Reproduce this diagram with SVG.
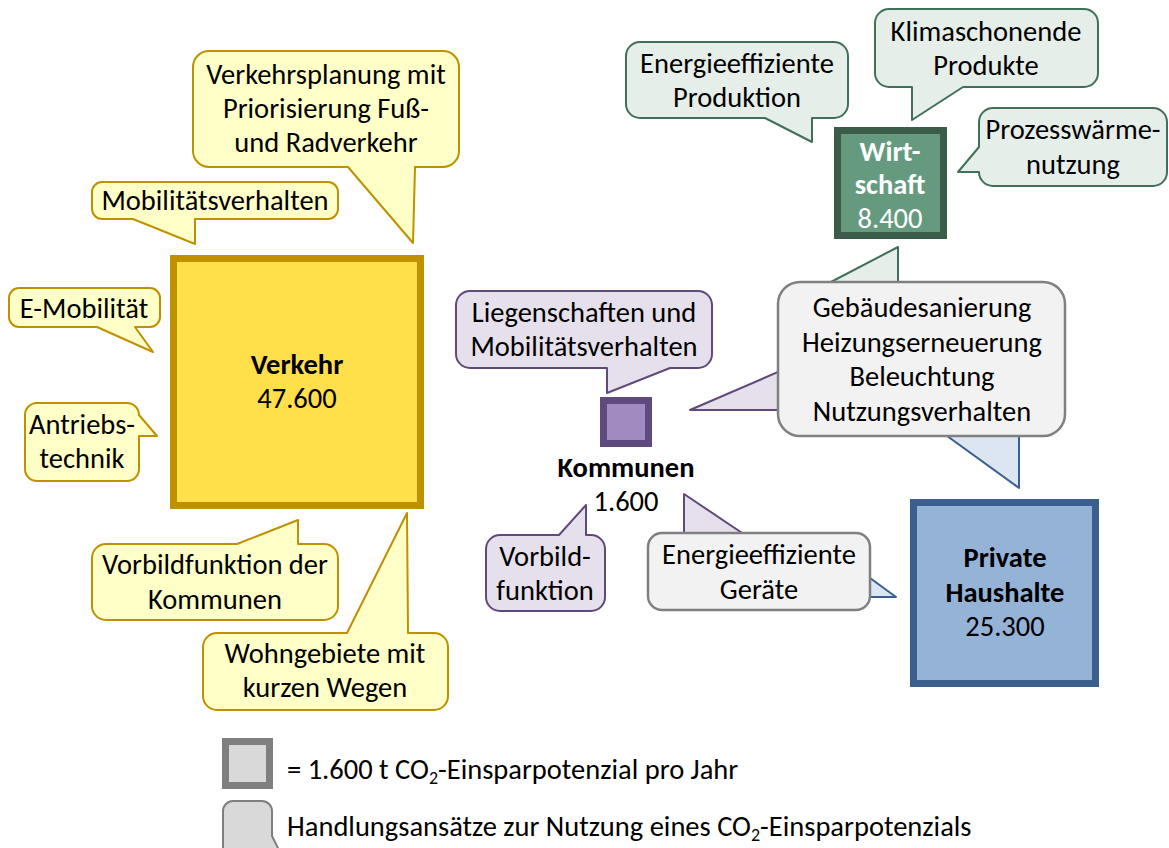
<svg xmlns="http://www.w3.org/2000/svg" width="1169" height="848" viewBox="0 0 1169 848">
<style>
text{font-family:"Carlito","Lato","Liberation Sans",sans-serif;font-size:28.5px;fill:#000;text-anchor:middle}
.b{font-weight:bold}
.w{fill:#fff}
.y{fill:#FFFFC8;stroke:#BF9000;stroke-width:2;stroke-linejoin:round}
.g{fill:#E6EEEA;stroke:#41705A;stroke-width:2;stroke-linejoin:round}
.p{fill:#E6E0EC;stroke:#604A7B;stroke-width:2;stroke-linejoin:round}
.gr{fill:#F2F2F2;stroke:#808080;stroke-width:2.5;stroke-linejoin:round}
.bl{fill:#DCE6F2;stroke:#3A5F8F;stroke-width:2;stroke-linejoin:round}
.lg{text-anchor:start}
.sub{font-size:18px}
</style>
<rect width="1169" height="848" fill="#fff"/>
<g id="connectors">
<polygon class="g" points="898,247 898,295 806,295"/>
<polygon class="p" points="690,410 800,362.5 800,410"/>
<polygon class="bl" points="1019,488 1019,420 925,420"/>
<polygon class="p" points="684,494 684,545 760,545"/>
<polygon class="bl" points="896,597 855,567 855,597"/>
</g>
<g id="verkehr">
<rect x="173.5" y="258.5" width="247" height="247" fill="#FFDF4A" stroke="#BF9000" stroke-width="7"/>
<text class="b" x="297" y="374">Verkehr</text>
<text x="297" y="408">47.600</text>
</g>
<g id="wirtschaft">
<rect x="837.5" y="130.5" width="106" height="105" fill="#659A7F" stroke="#3A5C48" stroke-width="7"/>
<text class="b w" x="890" y="161">Wirt-</text>
<text class="b w" x="890" y="194">schaft</text>
<text class="w" x="890" y="228">8.400</text>
</g>
<g id="kommunen">
<rect x="603.5" y="400.5" width="45" height="43" fill="#A18AC0" stroke="#5E4A7E" stroke-width="7"/>
<text class="b" x="626" y="477">Kommunen</text>
<text x="626" y="511">1.600</text>
</g>
<g id="haushalte">
<rect x="913.5" y="502.5" width="182" height="181" fill="#95B3D7" stroke="#3A5F8F" stroke-width="7"/>
<text class="b" x="1005" y="567">Private</text>
<text class="b" x="1005" y="602">Haushalte</text>
<text x="1005" y="636">25.300</text>
</g>
<g id="c-verkehrsplanung">
<path class="y" d="M209,51 H443 A16,16 0 0 1 459,67 V151 A16,16 0 0 1 443,167 H415 L413,243 L348,167 H209 A16,16 0 0 1 193,151 V67 A16,16 0 0 1 209,51 Z"/>
<text x="326" y="84">Verkehrsplanung mit</text>
<text x="326" y="118">Priorisierung Fuß-</text>
<text x="326" y="152">und Radverkehr</text>
</g>
<g id="c-mobilitaet">
<path class="y" d="M102,182 H328 A10,10 0 0 1 338,192 V209 A10,10 0 0 1 328,219 H195 L195,244 L133,219 H102 A10,10 0 0 1 92,209 V192 A10,10 0 0 1 102,182 Z"/>
<text x="215" y="210">Mobilitätsverhalten</text>
</g>
<g id="c-emob">
<path class="y" d="M19,288 H150 A10,10 0 0 1 160,298 V317 A10,10 0 0 1 150,327 H135 L153,352 L97,327 H19 A10,10 0 0 1 9,317 V298 A10,10 0 0 1 19,288 Z"/>
<text x="84" y="318">E-Mobilität</text>
</g>
<g id="c-antrieb">
<path class="y" d="M37,403 H127 A12,12 0 0 1 139,415 L157,436 L139,436 V469 A12,12 0 0 1 127,481 H37 A12,12 0 0 1 25,469 V415 A12,12 0 0 1 37,403 Z"/>
<text x="82" y="434">Antriebs-</text>
<text x="82" y="468">technik</text>
</g>
<g id="c-vorbild-verkehr">
<path class="y" d="M106,544 H237 L298,520 L298,544 H324 A14,14 0 0 1 338,558 V606 A14,14 0 0 1 324,620 H106 A14,14 0 0 1 92,606 V558 A14,14 0 0 1 106,544 Z"/>
<text x="215" y="574">Vorbildfunktion der</text>
<text x="215" y="609">Kommunen</text>
</g>
<g id="c-wohngebiete">
<path class="y" d="M217,633 H347 L407,513 L408,633 H434 A14,14 0 0 1 448,647 V696 A14,14 0 0 1 434,710 H217 A14,14 0 0 1 203,696 V647 A14,14 0 0 1 217,633 Z"/>
<text x="325" y="663">Wohngebiete mit</text>
<text x="325" y="697">kurzen Wegen</text>
</g>
<g id="c-produktion">
<path class="g" d="M640,42 H834 A14,14 0 0 1 848,56 V104 A14,14 0 0 1 834,118 H812 L812,142 L765,118 H640 A14,14 0 0 1 626,104 V56 A14,14 0 0 1 640,42 Z"/>
<text x="737" y="73">Energieeffiziente</text>
<text x="737" y="107">Produktion</text>
</g>
<g id="c-produkte">
<path class="g" d="M889,9 H1084 A14,14 0 0 1 1098,23 V73 A14,14 0 0 1 1084,87 H963 L912,120 L912,87 H889 A14,14 0 0 1 875,73 V23 A14,14 0 0 1 889,9 Z"/>
<text x="986" y="41">Klimaschonende</text>
<text x="986" y="75">Produkte</text>
</g>
<g id="c-prozess">
<path class="g" d="M993,108 H1153 A14,14 0 0 1 1167,122 V172 A14,14 0 0 1 1153,186 H993 A14,14 0 0 1 979,172 L958,172 L979,147 V122 A14,14 0 0 1 993,108 Z"/>
<text x="1073" y="139">Prozesswärme-</text>
<text x="1073" y="174">nutzung</text>
</g>
<g id="c-gebaeude">
<rect class="gr" x="778" y="282" width="287" height="154" rx="22"/>
<text x="922" y="317">Gebäudesanierung</text>
<text x="922" y="352">Heizungserneuerung</text>
<text x="922" y="386">Beleuchtung</text>
<text x="922" y="421">Nutzungsverhalten</text>
</g>
<g id="c-liegenschaften">
<path class="p" d="M470,291 H698 A14,14 0 0 1 712,305 V354 A14,14 0 0 1 698,368 H670 L607,393 L607,368 H470 A14,14 0 0 1 456,354 V305 A14,14 0 0 1 470,291 Z"/>
<text x="584" y="322">Liegenschaften und</text>
<text x="584" y="356">Mobilitätsverhalten</text>
</g>
<g id="c-vorbild">
<path class="p" d="M500,535 H559 L586,505 L586,535 H591 A14,14 0 0 1 605,549 V597 A14,14 0 0 1 591,611 H500 A14,14 0 0 1 486,597 V549 A14,14 0 0 1 500,535 Z"/>
<text x="545" y="566">Vorbild-</text>
<text x="545" y="600">funktion</text>
</g>
<g id="c-geraete">
<rect class="gr" x="648" y="533" width="222" height="77" rx="14"/>
<text x="759" y="564">Energieeffiziente</text>
<text x="759" y="599">Geräte</text>
</g>
<g id="legend">
<rect x="225.5" y="741.5" width="44" height="44" fill="#D9D9D9" stroke="#7F7F7F" stroke-width="7"/>
<text class="lg" x="287" y="779">= 1.600 t CO<tspan class="sub" dy="5">2</tspan><tspan dy="-5">-Einsparpotenzial pro Jahr</tspan></text>
<path d="M233,801 H262 A10,10 0 0 1 272,811 V836 L280,852 H223 V811 A10,10 0 0 1 233,801 Z" fill="#D9D9D9" stroke="#7F7F7F" stroke-width="2"/>
<text class="lg" x="287" y="836">Handlungsansätze zur Nutzung eines CO<tspan class="sub" dy="5">2</tspan><tspan dy="-5">-Einsparpotenzials</tspan></text>
</g>
</svg>
